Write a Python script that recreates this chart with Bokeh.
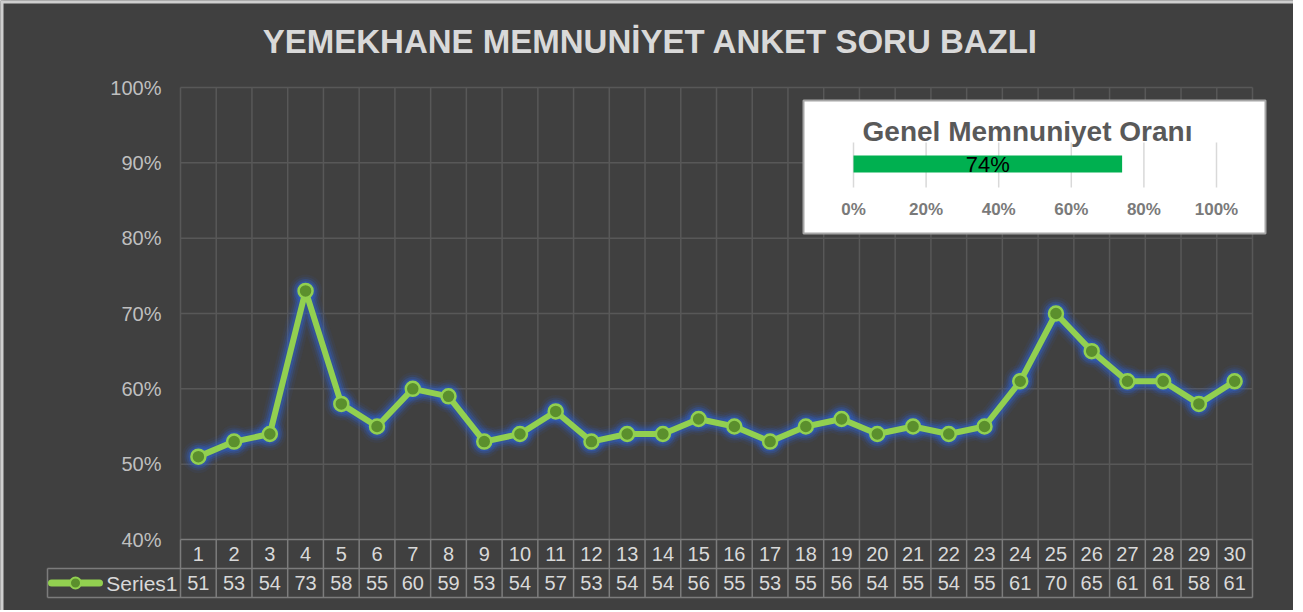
from bokeh.plotting import figure
from bokeh.models import Range1d
from bokeh.embed import file_html
from bokeh.resources import INLINE
from bokeh.core.properties import value

# ---------------- data ----------------
chart_title = "YEMEKHANE MEMNUNİYET ANKET SORU BAZLI"
questions = ["1", "2", "3", "4", "5", "6", "7", "8", "9", "10",
             "11", "12", "13", "14", "15", "16", "17", "18", "19", "20",
             "21", "22", "23", "24", "25", "26", "27", "28", "29", "30"]
scores = [51, 53, 54, 73, 58, 55, 60, 59, 53, 54,
          57, 53, 54, 54, 56, 55, 53, 55, 56, 54,
          55, 54, 55, 61, 70, 65, 61, 61, 58, 61]
series_name = "Series1"
y_ticks = [0.4, 0.5, 0.6, 0.7, 0.8, 0.9, 1.0]

overall_title = "Genel Memnuniyet Oranı"
overall_rate = 0.74
overall_ticks = [0.0, 0.2, 0.4, 0.6, 0.8, 1.0]

# ---------------- layout (page pixels) ----------------
W, H = 1293, 610
OFF = 0
PL, PR = 180, 1252          # plot area left / right
PY0, PY1 = 539, 87          # y of 40% and 100%
NCAT = len(questions)
COLW = (PR - PL) / NCAT
PXPERUNIT = (PY0 - PY1) / (y_ticks[-1] - y_ticks[0])

def xd(px):
    return 0.5 + (px - PL) / COLW

def yd(py):
    return y_ticks[0] + (PY0 - py) / PXPERUNIT

# inset scale
IL, IR = 853, 1216
ICY = 163.5
def ux(px):
    return (px - IL) / (IR - IL)
def uy(py):
    return ICY - py

BG = "#404040"
GRID = "#585858"
TBL = "#7c7c7c"
TXT = "#d9d9d9"
GREEN = "#92d050"
DKGREEN = "#5b8f2d"
GLOW = "#2f5fc4"
FONT = value("Liberation Sans")

p = figure(width=W, height=H,
           x_range=Range1d(xd(OFF), xd(OFF + W)),
           y_range=Range1d(yd(OFF + H), yd(OFF)),
           x_axis_type=None, y_axis_type=None,
           output_backend="svg", toolbar_location=None,
           min_border=0, background_fill_color=BG, border_fill_color=BG,
           outline_line_color=None)
p.grid.visible = False

xs = list(range(1, NCAT + 1))
ys = [s / 100 for s in scores]
left_edge = 0.5
right_edge = NCAT + 0.5
bounds = [left_edge + k for k in range(NCAT + 1)]

# thin light frame at top/left like the reference
p.segment(x0=[xd(0), xd(1.5)], x1=[xd(W), xd(1.5)], y0=[yd(1.5), yd(0)], y1=[yd(1.5), yd(H)],
          line_color="#cfcfcf", line_width=3)

# gridlines
p.segment(x0=[left_edge] * (len(y_ticks) - 1), x1=[right_edge] * (len(y_ticks) - 1),
          y0=y_ticks[1:], y1=y_ticks[1:], line_color=GRID, line_width=1.5)
p.segment(x0=bounds, x1=bounds, y0=[y_ticks[0]] * len(bounds), y1=[y_ticks[-1]] * len(bounds),
          line_color=GRID, line_width=1.5)

# y tick labels
p.text(x=[xd(161)] * len(y_ticks), y=y_ticks,
       text=[f"{int(round(t * 100))}%" for t in y_ticks],
       text_font=FONT, text_font_size="20px", text_color="#bfbfbf",
       text_align="right", text_baseline="middle")

# title
p.text(x=[xd(650)], y=[yd(41)], text=[chart_title], text_font=FONT,
       text_font_size="33px", text_font_style="bold", text_color=TXT,
       text_align="center", text_baseline="middle")

# series glow
for w, a in [(24, 0.08), (19, 0.15), (15, 0.25), (11, 0.4)]:
    p.line(xs, ys, line_width=w, line_color=GLOW, line_alpha=a, line_join="round")
    p.scatter(xs, ys, size=14 + w - 5, fill_color=GLOW, fill_alpha=a, line_color=None)
p.line(xs, ys, line_width=6, line_color=GREEN, line_join="round")
p.scatter(xs, ys, size=14, fill_color=DKGREEN, line_color=GREEN, line_width=2.5)

# data table
row_top = y_ticks[0]
row_mid = yd(568)
row_bot = yd(597)
leg_left = xd(47)
p.segment(x0=[left_edge, leg_left, leg_left], x1=[right_edge] * 3,
          y0=[row_top, row_mid, row_bot], y1=[row_top, row_mid, row_bot],
          line_color=TBL, line_width=1.5)
p.segment(x0=bounds, x1=bounds, y0=[row_bot] * len(bounds), y1=[row_top] * len(bounds),
          line_color=TBL, line_width=1.5)
p.segment(x0=[leg_left], x1=[leg_left], y0=[row_bot], y1=[row_mid],
          line_color=TBL, line_width=1.5)
p.text(x=xs, y=[(row_top + row_mid) / 2] * NCAT, text=questions, text_font=FONT,
       text_font_size="20px", text_color=TXT, text_align="center", text_baseline="middle")
p.text(x=xs, y=[(row_mid + row_bot) / 2] * NCAT, text=[str(s) for s in scores], text_font=FONT,
       text_font_size="20px", text_color=TXT, text_align="center", text_baseline="middle")
# legend key
ly = (row_mid + row_bot) / 2
p.line([xd(51), xd(99)], [ly, ly], line_width=7, line_color=GREEN, line_cap="round")
p.scatter([xd(75)], [ly], size=11, fill_color=DKGREEN, line_color=GREEN, line_width=2)
p.text(x=[xd(177)], y=[ly], text=[series_name], text_font=FONT, text_font_size="21px",
       text_color=TXT, text_align="right", text_baseline="middle")

# ---------------- inset ----------------
p.extra_x_ranges = {"ins": Range1d(ux(OFF), ux(OFF + W))}
p.extra_y_ranges = {"ins": Range1d(uy(OFF + H), uy(OFF))}
kw = dict(x_range_name="ins", y_range_name="ins")
p.quad(left=[ux(803)], right=[ux(1265)], bottom=[uy(233)], top=[uy(100)],
       fill_color="white", line_color="#a6a6a6", line_width=2, **kw)
p.segment(x0=overall_ticks, x1=overall_ticks, y0=[uy(187)] * len(overall_ticks),
          y1=[uy(142)] * len(overall_ticks), line_color="#d9d9d9", line_width=1.5, **kw)
p.hbar(y=[0], height=17, left=[0], right=[overall_rate], fill_color="#00b050",
       line_color=None, **kw)
p.text(x=[overall_rate / 2], y=[0], text=[f"{int(round(overall_rate * 100))}%"], text_font=FONT,
       text_font_size="22px", text_color="black", text_align="center",
       text_baseline="middle", **kw)
p.text(x=overall_ticks, y=[uy(209)] * len(overall_ticks),
       text=[f"{int(round(t * 100))}%" for t in overall_ticks], text_font=FONT,
       text_font_size="17px", text_font_style="bold", text_color="#7a7a7a", text_align="center",
       text_baseline="middle", **kw)
p.text(x=[ux(1027)], y=[uy(131)], text=[overall_title], text_font=FONT,
       text_font_size="28px", text_font_style="bold", text_color="#595959",
       text_align="center", text_baseline="middle", **kw)

open("out.html", "w").write(file_html(p, INLINE))
